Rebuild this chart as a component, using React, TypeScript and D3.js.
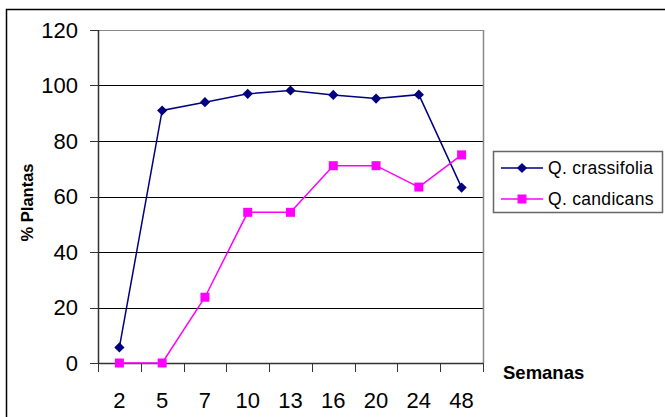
import React from "react";
import * as d3 from "d3";

const categories = ["2", "5", "7", "10", "13", "16", "20", "24", "48"];
const crassifolia = [5.6, 91, 94, 97, 98.2, 96.6, 95.3, 96.7, 63.2];
const candicans = [0, 0, 23.7, 54.3, 54.3, 71.1, 71.1, 63.4, 75];
const yTicks = [0, 20, 40, 60, 80, 100, 120];
const seriesNames = ["Q. crassifolia", "Q. candicans"];

const W = 665;
const H = 417;
const L = 98, R = 483, T = 30, B = 363;

export default function App() {
  const x = d3.scaleBand<string>().domain(categories).range([L, R]).padding(0);
  const y = d3.scaleLinear().domain([0, 120]).range([B, T]);
  const cx = (c: string) => (x(c) as number) + x.bandwidth() / 2;
  const line = d3
    .line<number>()
    .x((_, i) => cx(categories[i]))
    .y((d) => y(d));
  const diamond = d3.symbol().type(d3.symbolSquare).size(52)();
  const font = "Arial, 'Liberation Sans', sans-serif";
  const edges = categories.map((c) => x(c) as number).concat([R]);

  return (
    <svg
      width={W}
      height={H}
      style={{ position: "absolute", left: 0, top: 0, background: "#fff" }}
      fontFamily={font}
    >
      <rect x={6.5} y={9.5} width={800} height={600} fill="#fff" stroke="#000" strokeWidth={1.5} />
      {/* gridlines */}
      {yTicks.map((t) => (
        <line key={"g" + t} x1={L} x2={R} y1={Math.round(y(t)) + 0.5} y2={Math.round(y(t)) + 0.5}
          stroke={t === 120 ? "#888" : "#000"} strokeWidth={1} />
      ))}
      {/* plot border right */}
      <line x1={R + 0.5} x2={R + 0.5} y1={T} y2={B} stroke="#888" strokeWidth={1.5} />
      {/* y axis */}
      <line x1={L + 0.5} x2={L + 0.5} y1={T} y2={B} stroke="#333" strokeWidth={1.5} />
      {yTicks.map((t) => (
        <g key={"yt" + t}>
          <line x1={90} x2={L} y1={Math.round(y(t)) + 0.5} y2={Math.round(y(t)) + 0.5} stroke="#333" />
          <text x={78} y={y(t)} dy="0.36em" textAnchor="end" fontSize={22} fill="#000">{t}</text>
        </g>
      ))}
      {/* x axis */}
      <line x1={L} x2={R} y1={B + 0.5} y2={B + 0.5} stroke="#333" strokeWidth={1.5} />
      {edges.map((e, i) => (
        <line key={"xt" + i} x1={Math.round(e) + 0.5} x2={Math.round(e) + 0.5} y1={B} y2={B + 9} stroke="#333" />
      ))}
      {categories.map((c) => (
        <text key={"xl" + c} x={cx(c)} y={408} textAnchor="middle" fontSize={22} fill="#000">{c}</text>
      ))}
      {/* axis titles */}
      <text x={503} y={379} fontSize={18.5} fontWeight="bold" fill="#000">Semanas</text>
      <text transform={`translate(33,${(T + B) / 2 + 6}) rotate(-90)`} textAnchor="middle" fontSize={16.5} fontWeight="bold" fill="#000">% Plantas</text>
      {/* series */}
      <path d={line(crassifolia) || ""} fill="none" stroke="#000080" strokeWidth={1.5} />
      <path d={line(candicans) || ""} fill="none" stroke="#FF00FF" strokeWidth={1.5} />
      {crassifolia.map((v, i) => (
        <path key={"d" + i} d={diamond || ""} transform={`translate(${cx(categories[i])},${y(v)}) rotate(45)`} fill="#000080" />
      ))}
      {candicans.map((v, i) => (
        <rect key={"s" + i} x={cx(categories[i]) - 4.5} y={y(v) - 4.5} width={9} height={9} fill="#FF00FF" />
      ))}
      {/* legend */}
      <rect x={493.5} y={151.5} width={169} height={61} fill="#fff" stroke="#666" strokeWidth={1.5} />
      {seriesNames.map((n, i) => {
        const ly = 168 + i * 31;
        return (
          <g key={n}>
            <line x1={501} x2={543} y1={ly} y2={ly} stroke={i === 0 ? "#000080" : "#FF00FF"} strokeWidth={1.5} />
            {i === 0 ? (
              <path d={diamond || ""} transform={`translate(522,${ly}) rotate(45)`} fill="#000080" />
            ) : (
              <rect x={517.5} y={ly - 4.5} width={9} height={9} fill="#FF00FF" />
            )}
            <text x={548} y={ly} dy="0.36em" fontSize={17.5} fill="#000" letterSpacing={0.3}>{n}</text>
          </g>
        );
      })}
    </svg>
  );
}
